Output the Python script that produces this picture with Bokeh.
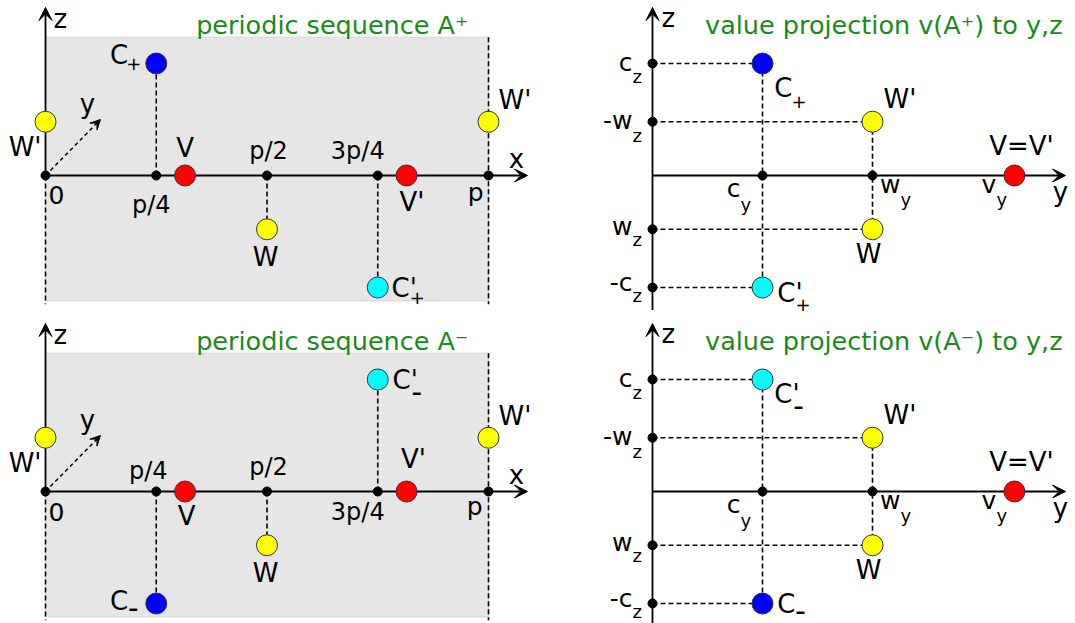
from bokeh.plotting import figure
from bokeh.models import Range1d, Arrow, VeeHead, BoxAnnotation
from bokeh.layouts import column, row
from bokeh.embed import file_html
from bokeh.resources import INLINE
from bokeh.core.properties import value

# ---------------- data ----------------
# left panels: x in units of the period p, z in units of c_z
tick_pos = [0.0, 0.25, 0.5, 0.75, 1.0]
tick_labels = ["0", "p/4", "p/2", "3p/4", "p"]

cz = 1.0      # c_z
wz = -0.48    # w_z  (W lies below the axis)
cy = 1.0      # c_y
wy = 2.0      # w_y
vy = 3.29     # v_y
v_x = 0.315   # position of V within the period
vp_x = 0.815  # position of V'

seq_names = ["W'", "C", "V", "W", "C'", "V'", "W'"]
seq_x = [0.0, 0.25, v_x, 0.5, 0.75, vp_x, 1.0]
seq_z_plus = [-wz, cz, 0.0, wz, -cz, 0.0, -wz]
seq_z_minus = [-wz, -cz, 0.0, wz, cz, 0.0, -wz]
seq_colors = ["#ffff00", "#0000ff", "#ff0000", "#ffff00", "#00ffff", "#ff0000", "#ffff00"]

proj_names = ["C", "C'", "W'", "W", "V=V'"]
proj_y = [cy, cy, wy, wy, vy]
proj_z_plus = [cz, -cz, -wz, wz, 0.0]
proj_z_minus = [-cz, cz, -wz, wz, 0.0]
proj_colors = ["#0000ff", "#00ffff", "#ffff00", "#ffff00", "#ff0000"]

zt_vals = [cz, -wz, wz, -cz]
zt_main = ["c", "-w", "w", "-c"]
yt_vals = [cy, wy, vy]
yt_main = ["c", "w", "v"]

titles_left = ["periodic sequence A\u207a", "periodic sequence A\u207b"]
titles_right = ["value projection v(A\u207a) to y,z", "value projection v(A\u207b) to y,z"]

# ---------------- layout / style ----------------
FONT = "DejaVu Sans"
GREEN = "#1a8a1a"
EDGE = "#333333"
WL, WR = 540, 535
HT, HB = 320, 303
XPX, ZPX, YPX = 443.0, 112.0, 110.0
OXL, OXR = 45, 112
AX_T, AX_B = 175, 171
GRAY_TOP, GRAY_BOT, DASH_BOT = 1.235, -1.12, -1.15
X_TIP, Z_TIP, Y_TIP, Z_BOT_R = 1.088, 1.5, 3.755, -1.2
Y_ARROW = (0.124, 0.5)
DASH = "5 3"
LBL = 26          # point label size
BASE_FIX = 0.35   # baseline correction (fraction of font size)


def make_fig(w, h, xr, yr):
    p = figure(width=w, height=h, x_range=Range1d(*xr), y_range=Range1d(*yr),
               toolbar_location=None, output_backend="svg", min_border=0,
               x_axis_location=None, y_axis_location=None, tools="",
               outline_line_color=None, background_fill_color="white",
               border_fill_color="white")
    p.xgrid.visible = False
    p.ygrid.visible = False
    return p


def put(p, x, y, s, dx, dy, align="left", size=LBL, color="black", style="normal"):
    p.text(x=[x], y=[y], text=[s], x_offset=dx, y_offset=dy - BASE_FIX * size,
           text_align=align, text_baseline="alphabetic", text_font=value(FONT),
           text_font_size=f"{size}px", text_color=color, text_font_style=style)


def arrow(p, x0, y0, x1, y1, dash="solid", width=1.8, head=13):
    p.add_layout(Arrow(end=VeeHead(size=head, fill_color="black", line_color="black", line_width=1),
                       x_start=x0, y_start=y0, x_end=x1, y_end=y1,
                       line_color="black", line_width=width, line_dash=dash, level="underlay"))


def left_panel(h, ax, zs, title, tick_off, plus):
    p = make_fig(WL, h, (-OXL / XPX, (WL - OXL) / XPX), (-(h - ax) / ZPX, ax / ZPX))
    p.add_layout(BoxAnnotation(left=0, right=1, bottom=GRAY_BOT, top=GRAY_TOP,
                               fill_color="#e6e6e6", fill_alpha=1, line_color="#d6d6d6",
                               line_alpha=1, line_width=1, level="image"))
    # period borders
    p.segment(x0=[0, 1], y0=[0, GRAY_TOP], x1=[0, 1], y1=[DASH_BOT, DASH_BOT],
              line_dash=DASH, line_width=1.6, line_color="black")
    # connectors of C, W, C'
    idx = [1, 3, 4]
    p.segment(x0=[seq_x[i] for i in idx], y0=[0] * 3, x1=[seq_x[i] for i in idx],
              y1=[zs[i] for i in idx], line_dash=DASH, line_width=1.6, line_color="black")
    # axes
    arrow(p, 0, 0, X_TIP, 0)
    arrow(p, 0, 0, 0, Z_TIP)
    arrow(p, 0, 0, Y_ARROW[0], Y_ARROW[1], dash="4 3", width=1.5, head=10)
    p.scatter(tick_pos, [0] * len(tick_pos), size=9, color="black")
    p.scatter(seq_x, zs, size=21, fill_color=seq_colors, line_color=EDGE, line_width=1)

    put(p, 0, 0, "z", 8, -147.5, "left", 26)
    put(p, X_TIP, 0, "x", -11, -7.5, "center", 26)
    put(p, Y_ARROW[0], Y_ARROW[1], "y", -13, -6.5, "center", 26)
    for t, lab, (dx, dy, al) in zip(tick_pos, tick_labels, tick_off):
        put(p, t, 0, lab, dx, dy, al, 25 if lab in ("0", "p") else 24)

    put(p, seq_x[0], zs[0], "W'", -4, 34, "right")
    put(p, seq_x[6], zs[6], "W'", 10, -13, "left")
    put(p, seq_x[3], zs[3], "W", -1.5, 37, "center")
    if plus:
        put(p, seq_x[2], zs[2], "V", 0, -18.5, "center")
        put(p, seq_x[5], zs[5], "V'", 5.5, 35.5, "center")
        put(p, seq_x[1], zs[1], "C", -28, 0.5, "right")
        put(p, seq_x[1], zs[1], "+", -30, 6.5, "left", 18)
        put(p, seq_x[4], zs[4], "C", 32, 9.5, "right")
        put(p, seq_x[4], zs[4], "'", 32, 9.5, "left")
        put(p, seq_x[4], zs[4], "+", 32, 16.5, "left", 18)
    else:
        put(p, seq_x[2], zs[2], "V", 1.5, 34, "center")
        put(p, seq_x[5], zs[5], "V'", 7, -23, "center")
        put(p, seq_x[1], zs[1], "C", -28, 7, "right")
        put(p, seq_x[1], zs[1], "\u2013", -28, 11, "left", 20, style="bold")
        put(p, seq_x[4], zs[4], "C", 33, 10, "right")
        put(p, seq_x[4], zs[4], "'", 33, 10, "left")
        put(p, seq_x[4], zs[4], "\u2013", 34, 19, "left", 20, style="bold")

    put(p, 1, 0, title, -20, -141.5, "right", 25.5, GREEN)
    return p


def right_panel(h, ax, zs, title, plus):
    p = make_fig(WR, h, (-OXR / YPX, (WR - OXR) / YPX), (-(h - ax) / ZPX, ax / ZPX))
    # dashed projections
    p.segment(x0=[0] * 4, y0=zt_vals, x1=[cy, wy, wy, cy], y1=zt_vals,
              line_dash=DASH, line_width=1.6, line_color="black")
    p.segment(x0=[cy, wy], y0=[cz, -wz], x1=[cy, wy], y1=[-cz, wz],
              line_dash=DASH, line_width=1.6, line_color="black")
    arrow(p, 0, Z_BOT_R, 0, Z_TIP)
    arrow(p, 0, 0, Y_TIP, 0)
    p.scatter([0] * 4, zt_vals, size=9, color="black")
    p.scatter([cy, wy], [0, 0], size=9, color="black")
    p.scatter(proj_y, zs, size=21, fill_color=proj_colors, line_color=EDGE, line_width=1)

    put(p, 0, 0, "z", 9, -148, "left", 26)
    put(p, Y_TIP, 0, "y", -5, 26, "center", 26)
    zoffs = [(8, 19), (8, 20), (6, 17), (4, 14)]
    for zv, m, (d1, d2) in zip(zt_vals, zt_main, zoffs):
        put(p, 0, zv, m, -20, d1, "right", 25)
        put(p, 0, zv, "z", -20, d2, "left", 18)
    yoffs = [(-22, 22, 35), (28, 18, 30), (-18, 18, 30)]
    for yv, m, (jx, d1, d2) in zip(yt_vals, yt_main, yoffs):
        put(p, yv, 0, m, jx, d1, "right", 25)
        put(p, yv, 0, "y", jx, d2, "left", 18)

    put(p, proj_y[2], zs[2], "W'", 11, -14, "left")
    put(p, proj_y[3], zs[3], "W", -4, 34, "center")
    put(p, proj_y[4], zs[4], "V=V'", 7, -20, "center")
    if plus:
        put(p, proj_y[0], zs[0], "C", 30, 34, "right")
        put(p, proj_y[0], zs[0], "+", 29, 44, "left", 18)
        put(p, proj_y[1], zs[1], "C", 33, 15, "right")
        put(p, proj_y[1], zs[1], "'", 33, 15, "left")
        put(p, proj_y[1], zs[1], "+", 33, 23, "left", 18)
    else:
        put(p, proj_y[1], zs[1], "C", 30, 24, "right")
        put(p, proj_y[1], zs[1], "'", 30, 24, "left")
        put(p, proj_y[1], zs[1], "\u2013", 31, 33, "left", 20, style="bold")
        put(p, proj_y[0], zs[0], "C", 33, 10, "right")
        put(p, proj_y[0], zs[0], "\u2013", 33, 14, "left", 20, style="bold")

    put(p, Y_TIP, 0, title, -3, -142, "right", 25.5, GREEN)
    return p


tick_off_plus = [(3, 28.5, "left"), (-5, 38, "center"), (1.5, -16.5, "center"),
                 (-20, -16.5, "center"), (-5, 25.5, "right")]
tick_off_minus = [(3, 29, "left"), (-8, -12, "center"), (1.5, -16.5, "center"),
                  (-20, 29, "center"), (-6, 24, "right")]

tl = left_panel(HT, AX_T, seq_z_plus, titles_left[0], tick_off_plus, True)
tr = right_panel(HT, AX_T, proj_z_plus, titles_right[0], True)
bl = left_panel(HB, AX_B, seq_z_minus, titles_left[1], tick_off_minus, False)
br = right_panel(HB, AX_B, proj_z_minus, titles_right[1], False)

layout = column(row(tl, tr), row(bl, br))
open("out.html", "w").write(file_html(layout, INLINE))
